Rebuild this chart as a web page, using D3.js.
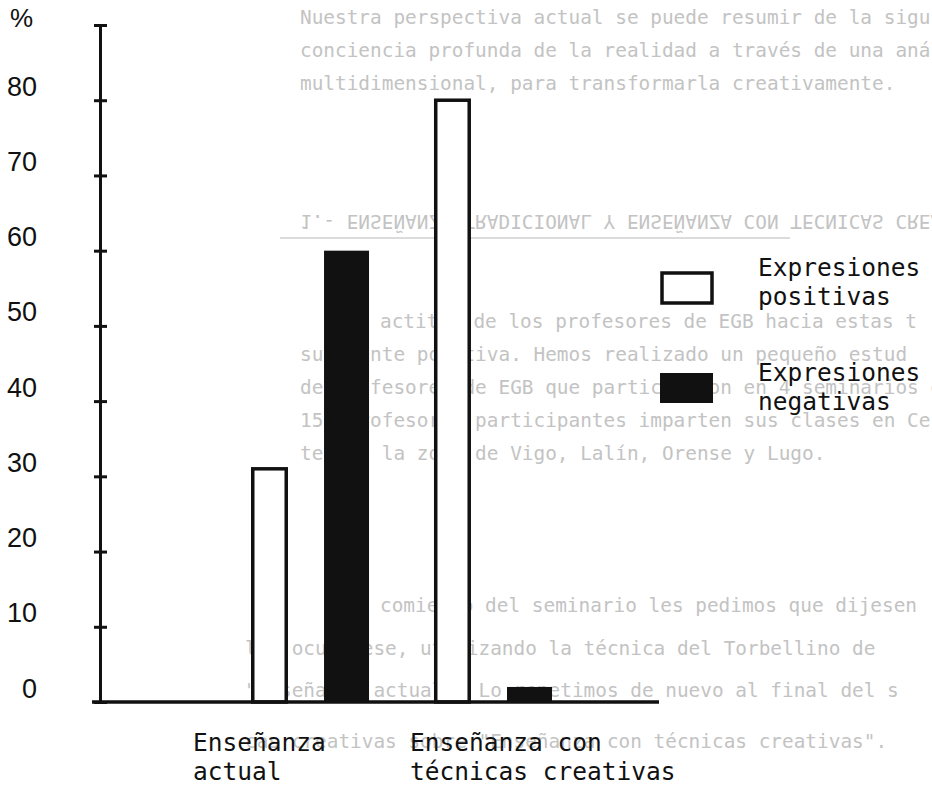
<!DOCTYPE html>
<html>
<head>
<meta charset="utf-8">
<title>Expresiones positivas y negativas</title>
<script src="https://d3js.org/d3.v7.min.js"></script>
<style>
  body { margin: 0; background: #fff; }
  .mono { font-family: "DejaVu Sans Mono", monospace; }
  .back { font-family: "DejaVu Sans Mono", monospace; font-size: 19.4px; fill: #c3c3c3; }
</style>
</head>
<body>
<svg width="932" height="788"></svg>
<script>
var categories = ["Enseñanza actual", "Enseñanza con técnicas creativas"]
var catLines = [["Enseñanza", "actual"], ["Enseñanza con", "técnicas creativas"]]
var series = ["Expresiones positivas", "Expresiones negativas"]
var positivas = [31, 80]
var negativas = [60, 2]
var yTicks = [0, 10, 20, 30, 40, 50, 60, 70, 80, 90]
var yTickLabels = ["0", "10", "20", "30", "40", "50", "60", "70", "80", ""]
var legendLines = [["Expresiones", "positivas"], ["Expresiones", "negativas"]]

// text from the back of the page showing through the scan
var backLines = [
  [300, 24, "Nuestra perspectiva actual se puede resumir de la sigu"],
  [300, 57, "conciencia profunda de la realidad a través de una anál"],
  [300, 90, "multidimensional, para transformarla creativamente."],
  [345, 328, "La actitud de los profesores de EGB hacia estas t"],
  [300, 361, "sumamente positiva. Hemos realizado un pequeño estud"],
  [300, 394, "de profesores de EGB que participaron en 4 seminarios d"],
  [300, 427, "156 profesores participantes imparten sus clases en Ce"],
  [300, 460, "tes de la zona de Vigo, Lalín, Orense y Lugo."],
  [345, 612, "Al comienzo del seminario les pedimos que dijesen"],
  [245, 655, "les ocurriese, utilizando la técnica del Torbellino de"],
  [245, 697, "\"Enseñanza actual\". Lo repetimos de nuevo al final del s"],
  [245, 748, "cas creativas sobre \"Enseñanza con técnicas creativas\"."]
]
var backHeading = "1.- ENSEÑANZA TRADICIONAL Y ENSEÑANZA CON TECNICAS CREA"

var svg = d3.select("svg")

// faint background first
var back = svg.append("g")
back.selectAll("text.line")
  .data(backLines)
  .enter().append("text")
  .attr("class", "back line")
  .attr("x", function(d) { return d[0]; })
  .attr("y", function(d) { return d[1]; })
  .text(function(d) { return d[2]; })
back.append("text")
  .attr("class", "back")
  .attr("transform", "translate(0,416) scale(1,-1)")
  .attr("x", 300)
  .attr("y", 201)
  .text(backHeading)
back.append("line")
  .attr("x1", 280).attr("x2", 790)
  .attr("y1", 238).attr("y2", 238)
  .attr("stroke", "#cfcfcf")
  .attr("stroke-width", 1.5)

var yScale = d3.scaleLinear().domain([0, 90]).range([702, 25])
var x0 = d3.scaleBand().domain(categories).range([251, 552]).paddingInner(0.355)
var x1 = d3.scaleBand().domain(series).range([0, x0.bandwidth()]).paddingInner(0.384)

// y axis, ticks crossing the line
var yAxis = svg.append("g")
  .attr("transform", "translate(100,0)")
  .call(d3.axisLeft(yScale).tickValues(yTicks).tickSize(7).tickSizeOuter(0)
    .tickFormat(function(d, i) { return yTickLabels[i]; }))
yAxis.select(".domain").attr("stroke", "#111").attr("stroke-width", 3)
yAxis.selectAll(".tick line").attr("x1", -6).attr("x2", 7)
  .attr("stroke", "#111").attr("stroke-width", 3)
yAxis.selectAll(".tick text")
  .attr("x", -63).attr("dy", -5)
  .attr("fill", "#111")
  .style("font-family", "Liberation Sans, sans-serif")
  .style("font-size", "27px")

svg.append("text")
  .attr("x", 10).attr("y", 27)
  .attr("fill", "#111")
  .style("font-family", "Liberation Sans, sans-serif")
  .style("font-size", "26px")
  .text("%")

// bars
var groups = svg.selectAll(".grp")
  .data(categories)
  .enter().append("g")
  .attr("class", "grp")
  .attr("transform", function(d) { return "translate(" + x0(d) + ",0)"; })

groups.append("rect")
  .attr("x", x1(series[0]) + 1.75)
  .attr("width", x1.bandwidth() - 11.5)
  .attr("y", function(d, i) { return yScale(positivas[i]); })
  .attr("height", function(d, i) { return 702 - yScale(positivas[i]); })
  .attr("fill", "#fff")
  .attr("stroke", "#111")
  .attr("stroke-width", 3.5)

groups.append("rect")
  .attr("x", x1(series[1]))
  .attr("width", x1.bandwidth())
  .attr("y", function(d, i) { return yScale(negativas[i]); })
  .attr("height", function(d, i) { return 702 - yScale(negativas[i]); })
  .attr("fill", "#111")

// baseline
svg.append("line")
  .attr("x1", 92).attr("x2", 659)
  .attr("y1", yScale(0)).attr("y2", yScale(0))
  .attr("stroke", "#111")
  .attr("stroke-width", 3.5)

// category labels
var catX = [193, 410]
categories.forEach(function(c, i) {
  var t = svg.append("text")
    .attr("class", "mono")
    .attr("fill", "#111")
    .style("font-size", "24.5px")
  catLines[i].forEach(function(s, j) {
    t.append("tspan").attr("x", catX[i]).attr("y", 751 + j * 29).text(s)
  })
})

// legend
svg.append("rect")
  .attr("x", 662).attr("y", 273).attr("width", 50).attr("height", 30)
  .attr("fill", "#fff").attr("stroke", "#111").attr("stroke-width", 3.5)
svg.append("rect")
  .attr("x", 660).attr("y", 373).attr("width", 53).attr("height", 30)
  .attr("fill", "#111")

var legY = [[276, 305], [381, 410]]
legendLines.forEach(function(lines, i) {
  var t = svg.append("text")
    .attr("class", "mono")
    .attr("fill", "#111")
    .style("font-size", "24.5px")
  lines.forEach(function(s, j) {
    t.append("tspan").attr("x", 758).attr("y", legY[i][j]).text(s)
  })
})
</script>
</body>
</html>
